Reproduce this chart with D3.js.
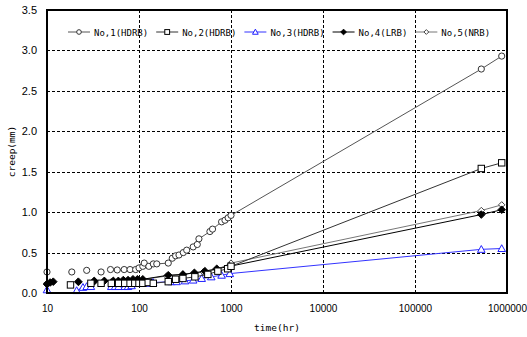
<!DOCTYPE html>
<html>
<head>
<meta charset="utf-8">
<script src="https://cdn.jsdelivr.net/npm/d3@7/dist/d3.min.js"></script>
<style>
  html, body { margin: 0; padding: 0; background: #fff; }
  svg { display: block; }
</style>
</head>
<body>
<svg id="chart" width="527" height="337"></svg>
<script>
// ---------------- data ----------------
// [time (hr), creep (mm)]; null = gap in the plotted line
const no1 = [[10,0.26],null,[18.6,0.26],null,[27,0.28],null,[38.7,0.26],null,[49,0.29],[58,0.285],[69,0.29],[80,0.29],[92,0.29],[100,0.31],[110,0.33],[114,0.37],[128,0.33],[143,0.36],[156,0.36],[208,0.37],[230,0.43],[250,0.46],[272,0.47],[303,0.5],[330,0.53],[388,0.57],[430,0.6],[448,0.67],[590,0.76],[630,0.79],[790,0.88],[860,0.9],[930,0.93],[1000,0.96],[525600,2.77],[876000,2.93]];
const no2 = [[18,0.1],null,[30,0.12],null,[38.7,0.12],null,[50,0.12],[60,0.12],[70,0.12],[80,0.12],[90,0.12],[100,0.12],[110,0.12],[126,0.13],[143,0.12],[208,0.14],[250,0.17],[300,0.18],[405,0.2],[560,0.23],[720,0.27],[920,0.3],[1000,0.33],[525600,1.54],[876000,1.61]];
const no3 = [[10,0.04],null,[21,0.03],[24.6,0.07],[27,0.08],[30,0.08],null,[50,0.08],[55,0.08],[60,0.08],[70,0.08],[76,0.08],[83,0.09],null,[126,0.12],[142,0.13],[226,0.14],[256,0.14],[316,0.15],[388,0.16],[480,0.18],[610,0.2],[790,0.22],[970,0.24],[525600,0.54],[876000,0.55]];
const no4 = [[10,0.11],[10.8,0.13],[11.7,0.14],null,[21.9,0.14],null,[32.6,0.15],null,[42,0.15],[52.6,0.15],[59.6,0.15],[67.5,0.16],[76,0.16],[86,0.17],[96,0.17],[110,0.17],[208,0.22],[300,0.23],[400,0.25],[520,0.27],[700,0.3],[970,0.33],[525600,0.97],[876000,1.03]];
const no5 = [[10,0.12],[11,0.13],null,[22,0.13],null,[33,0.14],null,[50,0.14],[70,0.15],[100,0.16],[200,0.21],[300,0.23],[500,0.26],[700,0.29],[1000,0.37],[525600,1.02],[876000,1.09]];

const seriesNames = ["No,1(HDRB)", "No,2(HDRB)", "No,3(HDRB)", "No,4(LRB)", "No,5(NRB)"];
const xTicks = [10, 100, 1000, 10000, 100000, 1000000];
const yTicks = [0, 0.5, 1.0, 1.5, 2.0, 2.5, 3.0, 3.5];
const xTitle = "time(hr)";
const yTitle = "creep(mm)";

// ---------------- layout ----------------
const svg = d3.select("#chart");
const L = 47, R = 507, T = 10, B = 293;
const x = d3.scaleLog().domain([10, 1e6]).range([L, R]);
const y = d3.scaleLinear().domain([0, 3.5]).range([B, T]);

const styles = [
  {line: "#555", stroke: "#333", fill: "#fff", sym: "circle"},
  {line: "#333", stroke: "#000", fill: "#fff", sym: "square"},
  {line: "#3333ff", stroke: "#2020ff", fill: "#fff", sym: "triangle"},
  {line: "#000", stroke: "#000", fill: "#000", sym: "diamond"},
  {line: "#777", stroke: "#444", fill: "#fff", sym: "sdiamond"}
];
const allSeries = [no1, no2, no3, no4, no5];

// grid
const grid = svg.append("g").attr("shape-rendering", "crispEdges");
grid.selectAll(".hg").data(yTicks.filter(v => v > 0 && v < 3.5)).enter().append("line")
  .attr("x1", L).attr("x2", R)
  .attr("y1", d => Math.round(y(d)) + 0.5).attr("y2", d => Math.round(y(d)) + 0.5)
  .attr("stroke", "#000").attr("stroke-dasharray", "3,2");
grid.selectAll(".vg").data(xTicks.filter(v => v > 10 && v < 1e6)).enter().append("line")
  .attr("y1", T).attr("y2", B)
  .attr("x1", d => Math.round(x(d)) + 0.5).attr("x2", d => Math.round(x(d)) + 0.5)
  .attr("stroke", "#000").attr("stroke-dasharray", "3,2");

// axes labels
const yAxis = d3.axisLeft(y).tickValues(yTicks).tickFormat(d3.format(".1f")).tickSize(0).tickPadding(10);
const gy = svg.append("g").attr("transform", `translate(${L},0)`).call(yAxis);
gy.select(".domain").remove();
gy.selectAll("text").attr("font-family", "Liberation Sans, Arial, sans-serif").attr("font-size", 11).attr("fill", "#000");

const xAxis = d3.axisBottom(x).tickValues(xTicks).tickFormat(d3.format("d")).tickSize(0).tickPadding(12);
const gx = svg.append("g").attr("transform", `translate(0,${B})`).call(xAxis);
gx.select(".domain").remove();
gx.selectAll("text").attr("font-family", "Liberation Sans, Arial, sans-serif").attr("font-size", 10).attr("fill", "#000");

svg.append("text").attr("x", (L + R) / 2).attr("y", 331).attr("text-anchor", "middle")
  .attr("font-family", "DejaVu Sans Mono, monospace").attr("font-size", 9.5).text(xTitle);
svg.append("text").attr("transform", `translate(15,${(T + B) / 2}) rotate(-90)`).attr("text-anchor", "middle")
  .attr("font-family", "DejaVu Sans Mono, monospace").attr("font-size", 9.5).text(yTitle);

// marker drawing
function marker(g, sym, st, k) {
  k = k || 1;
  let el;
  if (sym === "circle") el = g.append("circle").attr("r", 3.1 * k);
  else if (sym === "square") el = g.append("rect").attr("x", -3.2 * k).attr("y", -3.2 * k).attr("width", 6.4 * k).attr("height", 6.4 * k);
  else if (sym === "triangle") el = g.append("path").attr("d", `M0,${-3.8 * k}L${3.8 * k},${3 * k}L${-3.8 * k},${3 * k}Z`);
  else if (sym === "diamond") el = g.append("path").attr("d", `M0,${-3.8 * k}L${3.8 * k},0L0,${3.8 * k}L${-3.8 * k},0Z`);
  else el = g.append("path").attr("d", `M0,${-3.2 * k}L${3.2 * k},0L0,${3.2 * k}L${-3.2 * k},0Z`);
  el.attr("fill", st.fill).attr("stroke", st.stroke).attr("stroke-width", 1);
}

const line = d3.line().defined(d => d !== null).x(d => x(d[0])).y(d => y(d[1]));

// draw series in reverse so No.1 on top
[4, 3, 2, 1, 0].forEach(i => {
  const st = styles[i];
  const data = allSeries[i];
  svg.append("path").datum(data).attr("d", line).attr("fill", "none")
    .attr("stroke", st.line).attr("stroke-width", 1);
  const pts = svg.append("g");
  data.filter(d => d !== null).forEach(d => {
    const g = pts.append("g").attr("transform", `translate(${x(d[0])},${y(d[1])})`);
    marker(g, st.sym, st);
  });
});

// frame
svg.append("rect").attr("x", L).attr("y", T).attr("width", R - L).attr("height", B - T)
  .attr("fill", "none").attr("stroke", "#000").attr("stroke-width", 2).attr("shape-rendering", "crispEdges");

// legend
const leg = svg.append("g");
let lx = 68;
const ly = 32;
seriesNames.forEach((name, i) => {
  const st = styles[i];
  leg.append("line").attr("x1", lx).attr("x2", lx + 22).attr("y1", ly).attr("y2", ly)
    .attr("stroke", st.line).attr("stroke-width", 1);
  const g = leg.append("g").attr("transform", `translate(${lx + 11},${ly})`);
  marker(g, st.sym, st, 0.75);
  const t = leg.append("text").attr("x", lx + 26).attr("y", ly + 3.5)
    .attr("font-family", "DejaVu Sans Mono, monospace").attr("font-size", 9).text(name);
  lx += 26 + t.node().getComputedTextLength() + 8;
});
</script>
</body>
</html>
